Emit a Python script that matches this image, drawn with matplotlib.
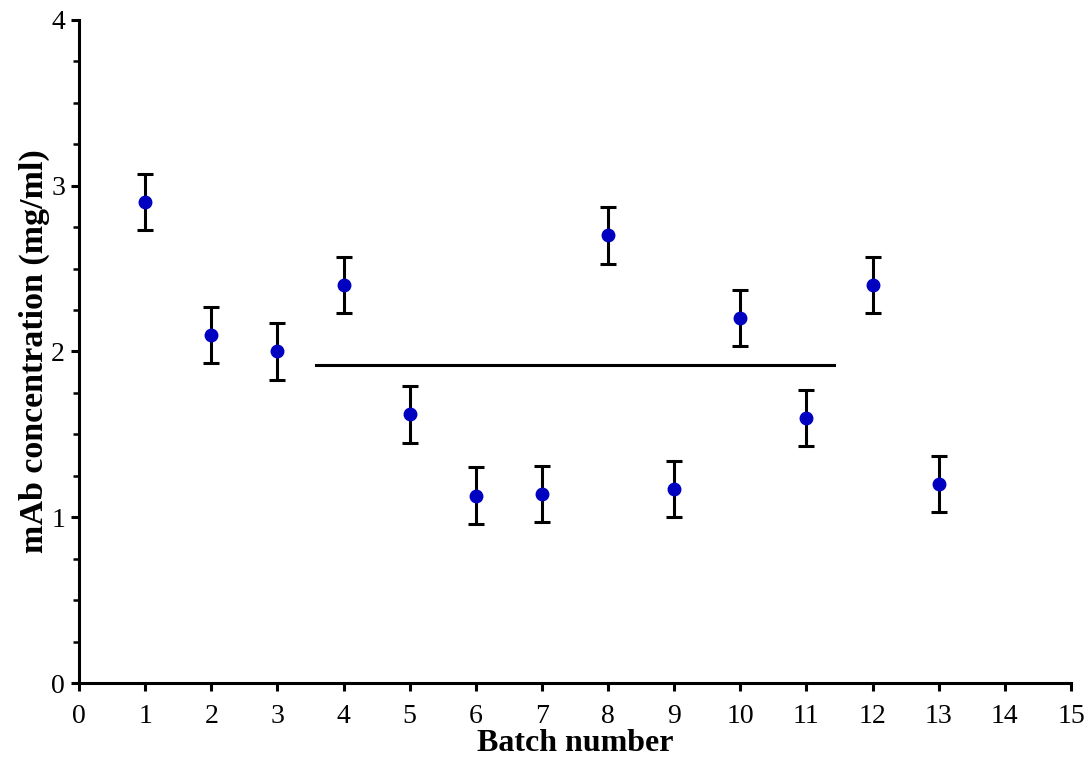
import numpy as np
import matplotlib.pyplot as plt
from matplotlib.ticker import MultipleLocator

# batch data
batch = [1, 2, 3, 4, 5, 6, 7, 8, 9, 10, 11, 12, 13]
conc = [2.90, 2.10, 2.00, 2.40, 1.62, 1.13, 1.14, 2.70, 1.17, 2.20, 1.60, 2.40, 1.20]
err = [0.17, 0.17, 0.17, 0.17, 0.17, 0.17, 0.17, 0.17, 0.17, 0.17, 0.17, 0.17, 0.17]

mean_level = 1.92
mean_span = [3.58, 11.42]

plt.rcParams['font.family'] = ['Liberation Serif', 'DejaVu Serif']

fig = plt.figure(figsize=(10.89, 7.64), dpi=100)
ax = fig.add_axes([0.0725, 0.106, 0.911, 0.868])

ax.errorbar(batch, conc, yerr=err, fmt='o', color='#0000c0', markersize=9,
            ecolor='black', elinewidth=2.2, capsize=5.5, capthick=2.2, zorder=3)
ax.plot(mean_span, [mean_level, mean_level], color='black', lw=2.2)

ax.set_xlim(0, 15)
ax.set_ylim(0, 4)
ax.xaxis.set_major_locator(MultipleLocator(1))
ax.yaxis.set_major_locator(MultipleLocator(1))
ax.yaxis.set_minor_locator(MultipleLocator(0.25))

ax.spines['top'].set_visible(False)
ax.spines['right'].set_visible(False)
for s in ['left', 'bottom']:
    ax.spines[s].set_linewidth(2.2)

ax.tick_params(axis='both', which='major', direction='out', length=6, width=2.2,
               labelsize=20)
ax.tick_params(axis='x', pad=9)
ax.tick_params(axis='y', pad=4)
ax.tick_params(axis='y', which='minor', direction='out', length=4, width=1.8)

ax.set_xlabel('Batch number', fontsize=23, fontweight='bold', labelpad=0)
ax.set_ylabel('mAb concentration (mg/ml)', fontsize=24.5, fontweight='bold', labelpad=1)

fig.savefig('out.png', dpi=100)
